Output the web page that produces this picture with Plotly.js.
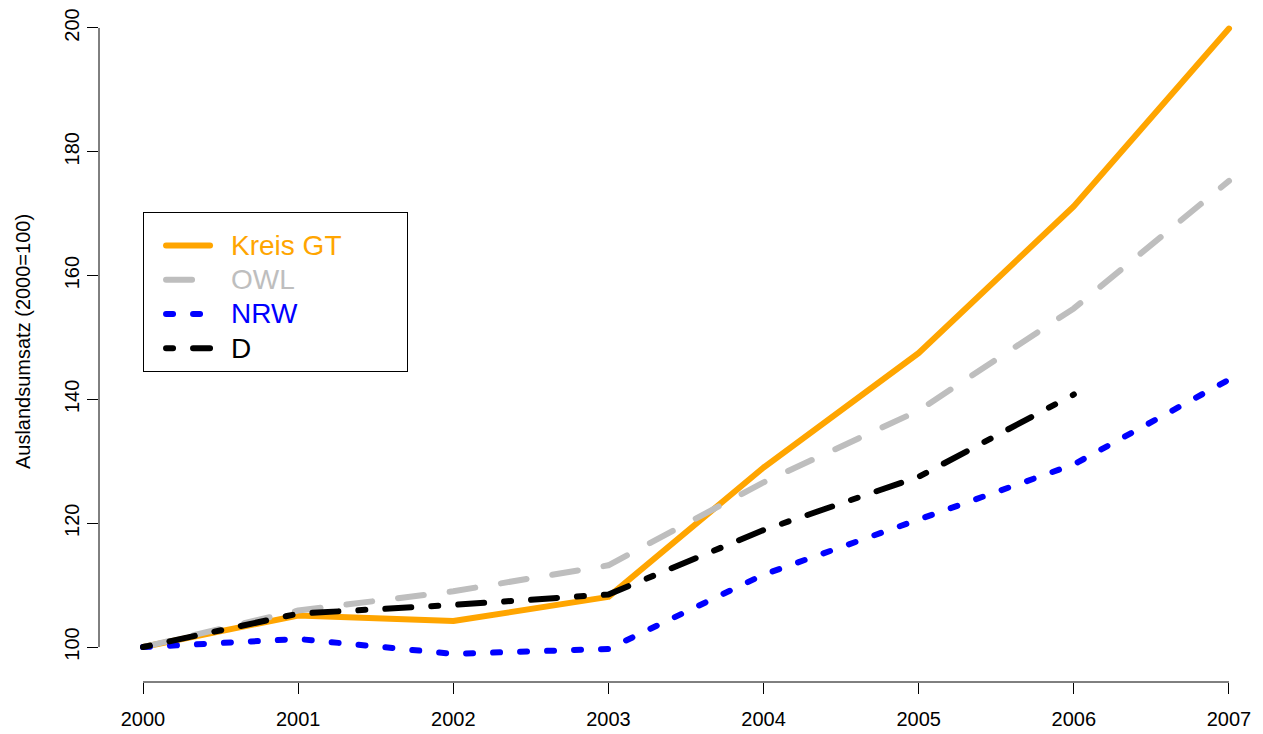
<!DOCTYPE html>
<html>
<head>
<meta charset="utf-8">
<script src="https://cdn.plot.ly/plotly-3.0.1.min.js"></script>
<style>
  html, body { margin: 0; padding: 0; background: #fff; }
  #chart { width: 1263px; height: 734px; }
  .scatterlayer .js-line, .legendlines path { stroke-linecap: round; stroke-linejoin: round; }
</style>
</head>
<body>
<div id="chart"></div>
<script>
// ---- data ----
const years    = [2000, 2001, 2002, 2003, 2004, 2005, 2006, 2007];
const kreisGT  = [100, 105.1, 104.2, 108.1, 129.0, 147.5, 171.2, 199.9];
const owl      = [100, 105.9, 109.0, 113.2, 126.6, 138.2, 154.7, 175.3];
const nrw      = [100, 101.3, 98.9, 99.7, 111.7, 120.5, 129.5, 143.2];
const yearsD   = [2000, 2001, 2002, 2003, 2004, 2005, 2006];
const deutschl = [100, 105.4, 106.8, 108.5, 118.9, 127.5, 140.8];
const seriesNames = ['Kreis GT', 'OWL', 'NRW', 'D'];
const yTicks = [100, 120, 140, 160, 180, 200];
const xTicks = years;
const yTitle = 'Auslandsumsatz (2000=100)';

const FONT = 'Liberation Sans, Arial, Helvetica, sans-serif';
const colors = ['#FFA500', '#BEBEBE', '#0000FF', '#000000'];
const dashes = ['solid', '26px,26px', '7px,20px', '7px,20px,26px,20px'];

function lbl(name, color, pad) {
  return '<span style="color:' + color + ';font-size:28px">' + name + pad + '</span>';
}
const pads = ['\u00a0'.repeat(7) + '\u2009', '', '', ''];

const xs = [years, years, years, yearsD];
const ys = [kreisGT, owl, nrw, deutschl];
const traces = ys.map((y, i) => ({
  x: xs[i], y: y, type: 'scatter', mode: 'lines',
  name: lbl(seriesNames[i], colors[i], pads[i]),
  line: { color: colors[i], width: 6, dash: dashes[i] },
  hoverinfo: 'x+y'
}));

const layout = {
  width: 1263, height: 734,
  margin: { l: 99, r: 5, t: 1, b: 52 },
  paper_bgcolor: '#fff', plot_bgcolor: '#fff',
  font: { family: FONT, size: 20, color: '#000' },
  showlegend: true,
  legend: {
    x: 0.038, y: 0.69, xanchor: 'left', yanchor: 'top',
    bordercolor: '#000', borderwidth: 1, bgcolor: '#fff',
    font: { family: FONT, size: 24 },
    itemwidth: 77,
    title: { text: '\u00a0', font: { size: 8 } },
    traceorder: 'normal'
  },
  xaxis: {
    range: [1999.7164, 2007.187],
    tickvals: xTicks, ticktext: xTicks.map(String),
    ticks: 'outside', ticklen: 11, tickwidth: 1, tickcolor: '#000',
    ticklabelstandoff: 8,
    showline: false, showgrid: false, zeroline: false,
    tickfont: { family: FONT, size: 20 }
  },
  yaxis: {
    range: [94.355, 204.355],
    tickvals: yTicks, ticktext: yTicks.map(String),
    tickangle: -90,
    ticks: 'outside', ticklen: 11, tickwidth: 1, tickcolor: '#000',
    showline: false, showgrid: false, zeroline: false,
    tickfont: { family: FONT, size: 20 },
    title: { text: yTitle, font: { family: FONT, size: 20 }, standoff: 25 }
  },
  shapes: [
    { type: 'line', xref: 'x', yref: 'paper', x0: xTicks[0], x1: xTicks[xTicks.length - 1], y0: 0, y1: 0,
      line: { color: '#000', width: 1 } },
    { type: 'line', xref: 'paper', yref: 'y', x0: 0, x1: 0, y0: yTicks[0], y1: yTicks[yTicks.length - 1],
      line: { color: '#000', width: 1 } }
  ]
};

Plotly.newPlot('chart', traces, layout, { displayModeBar: false, staticPlot: true }).then(gd => {
  // shorten legend line samples to the reference's segment length
  gd.querySelectorAll('.legendlines path').forEach(p => {
    const d = p.getAttribute('d') || '';
    const m = d.match(/^M([\d.\-]+),([\d.\-]+)/);
    if (m) {
      const x0 = parseFloat(m[1]) + 17;
      p.setAttribute('d', 'M' + x0 + ',' + m[2] + 'h44');
    }
  });
});
</script>
</body>
</html>
